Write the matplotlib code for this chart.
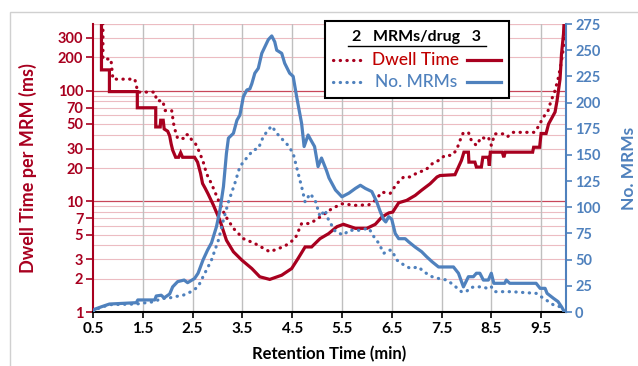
"""Dwell time per MRM and number of MRMs across retention time (2 vs 3 MRMs/drug)."""

import matplotlib

matplotlib.use("Agg")
import matplotlib.pyplot as plt
from matplotlib.lines import Line2D
from matplotlib.patches import Rectangle

plt.rcParams["font.family"] = ["Lato", "DejaVu Sans"]

RED = "#A8001F"
RED_TEXT = "#C00000"
BLUE = "#4F81BD"
GRID_MINOR = "#ECBCC2"
GRID_MAJOR = "#C8475A"

# Dwell time (ms), 3 MRMs/drug (solid)
dwell3_t = [0.5, 0.67, 0.67, 0.83, 0.83, 1.39, 1.39, 1.76, 1.76, 1.85, 1.86, 1.91, 1.93,
            2.0, 2.04, 2.07, 2.1, 2.16, 2.22, 2.26, 2.3, 2.54, 2.6, 2.66, 2.7, 2.75, 2.81,
            2.92, 3.05, 3.18, 3.32, 3.49, 3.69, 3.85, 4.05, 4.29, 4.49, 4.62, 4.76, 4.89,
            5.06, 5.23, 5.4, 5.53, 5.77, 6.0, 6.17, 6.3, 6.44, 6.52, 6.64, 6.8, 6.97, 7.1,
            7.27, 7.41, 7.47, 7.77, 7.84, 7.9, 7.95, 8.04, 8.05, 8.17, 8.2, 8.3, 8.33, 8.44,
            8.46, 8.48, 8.72, 8.75, 8.78, 9.33, 9.35, 9.47, 9.5, 9.6, 9.65, 9.78, 9.82, 9.88,
            9.91, 9.95, 9.97]
dwell3_ms = [500, 500, 154, 154, 98, 98, 70, 70, 47, 47, 54, 54, 45,
             43, 39, 33, 29, 25, 25, 27.5, 25, 25, 22.6, 17.9, 14.5, 13.2, 11.7,
             9.2, 6.7, 4.45, 3.5, 2.94, 2.47, 2.08, 1.97, 2.15, 2.47, 3.05, 3.87, 3.87,
             4.6, 5.1, 5.9, 6.2, 5.7, 5.7, 6.2, 7.2, 7.85, 8.0, 9.7, 10.2, 11.3, 12.6,
             14.4, 16.6, 17.1, 17.4, 20.4, 23.4, 27.8, 27.8, 22.6, 22.6, 20.4, 20.4, 25, 25,
             21, 27.8, 27.8, 25, 27.8, 27.8, 30.8, 30.8, 41, 41, 50, 64, 81, 127,
             215, 325, 500]

# Dwell time (ms), 2 MRMs/drug (dotted)
dwell2_t = [0.5, 0.7, 0.7, 0.86, 0.9, 1.34, 1.4, 1.74, 1.78, 1.9, 1.95, 2.08, 2.12, 2.16,
            2.2, 2.33, 2.36, 2.42, 2.48, 2.56, 2.62, 2.71, 2.78, 2.88, 3.02, 3.15, 3.32,
            3.52, 3.75, 4.05, 4.35, 4.56, 4.69, 4.86, 5.06, 5.3, 5.5, 5.77, 6.04, 6.17,
            6.3, 6.47, 6.6, 6.74, 6.87, 7.04, 7.17, 7.31, 7.44, 7.57, 7.7, 7.8, 7.87, 7.93,
            8.04, 8.1, 8.2, 8.3, 8.37, 8.44, 8.5, 8.57, 8.77, 8.83, 8.94, 9.37, 9.44, 9.54,
            9.64, 9.7, 9.77, 9.84, 9.9, 9.95, 9.98]
dwell2_ms = [500, 500, 193, 193, 127, 127, 97, 97, 81, 81, 66, 66, 50, 42,
             37, 37, 40, 40, 36, 33, 29, 23, 17.8, 14.4, 10.2, 7.5, 5.7,
             4.6, 4.16, 3.5, 3.93, 4.6, 6.3, 6.3, 7.2, 8.6, 9.5, 9.2, 9.3, 10.2,
             12.1, 11.8, 14.4, 16.6, 16.6, 18.4, 19, 21.8, 23.4, 26, 26, 28.9, 35.4, 41,
             42, 35.4, 32, 38, 37, 38, 32, 40.7, 40.7, 38.5, 42, 42, 47, 57,
             66, 81, 97, 127, 174, 245, 400]

# Number of MRMs, 3 MRMs/drug (solid)
mrm3_t = [0.5, 0.53, 0.67, 0.83, 1.37, 1.4, 1.74, 1.77, 1.87, 1.93, 2.04, 2.1, 2.2, 2.33,
          2.4, 2.54, 2.61, 2.71, 2.8, 2.88, 2.98, 3.05, 3.12, 3.18, 3.22, 3.32, 3.39,
          3.45, 3.52, 3.59, 3.65, 3.69, 3.75, 3.82, 3.89, 3.95, 4.02, 4.09, 4.15, 4.19,
          4.29, 4.35, 4.45, 4.52, 4.59, 4.69, 4.74, 4.82, 4.89, 4.95, 5.02, 5.09, 5.19,
          5.24, 5.37, 5.5, 5.64, 5.77, 5.87, 5.97, 6.1, 6.2, 6.27, 6.34, 6.38, 6.44, 6.5,
          6.57, 6.64, 6.77, 6.84, 6.97, 7.1, 7.2, 7.31, 7.44, 7.74, 7.84, 7.94, 8.04,
          8.14, 8.2, 8.27, 8.34, 8.44, 8.5, 8.55, 8.77, 8.8, 8.87, 9.4, 9.48, 9.58, 9.62,
          9.75, 9.84, 9.91, 9.97, 10.0]
mrm3_n = [0, 2.6, 5, 7.6, 8.9, 11.5, 11.5, 15.3, 16, 13.5, 17.2, 24, 29, 30.5,
          28, 32, 37, 49.7, 59, 66, 81.5, 97.4, 119.7, 151.5, 166, 170.6, 183,
          188, 205.6, 212, 213, 218, 228, 232.7, 247, 253, 260, 263.6, 258, 250,
          247, 237.5, 228, 225, 205.6, 180, 158, 169, 163, 158, 138.8, 147, 135,
          128, 116.5, 110, 113.5, 118, 121, 118, 115, 105, 95.8, 88, 86, 91, 88.5,
          75, 70, 70, 67, 62, 57.6, 52.8, 48, 43, 43, 37, 24, 33.7,
          33.7, 37, 37, 30.5, 30.5, 37, 27.4, 27.4, 30.5, 27.4, 27.4, 22.6, 22.6, 17.8,
          13, 9.9, 5, 0, 0]

# Number of MRMs, 2 MRMs/drug (dotted)
mrm2_t = [0.5, 0.53, 0.67, 0.83, 1.37, 1.47, 1.74, 1.87, 2.0, 2.14, 2.31, 2.47, 2.61, 2.71,
          2.81, 2.88, 3.02, 3.12, 3.22, 3.35, 3.45, 3.55, 3.72, 3.82, 3.92, 4.02, 4.09,
          4.19, 4.32, 4.42, 4.52, 4.62, 4.69, 4.76, 4.86, 4.96, 5.06, 5.16, 5.23, 5.37,
          5.53, 5.64, 5.84, 6.04, 6.14, 6.24, 6.34, 6.44, 6.5, 6.6, 6.74, 6.87, 7.04,
          7.14, 7.31, 7.44, 7.61, 7.74, 7.9, 8.0, 8.07, 8.17, 8.34, 8.44, 8.5, 8.57, 8.9,
          9.4, 9.5, 9.6, 9.75, 9.88, 9.97]
mrm2_n = [0, 2, 4.5, 7, 7.6, 8.3, 9.9, 13, 13, 14.6, 16, 19.4, 24, 33.7,
          43, 49.7, 68.8, 88, 105, 123, 138.8, 145, 154.7, 156, 167.4, 174, 177.6,
          170.7, 164, 159, 151.5, 132.5, 119.7, 105, 113, 107, 91, 97.4, 88, 76.7,
          73.5, 78, 78, 80, 72, 65.6, 56, 59, 59, 49.7, 45, 41.7, 43,
          38.5, 33.7, 32, 30.5, 25.8, 19.4, 19.4, 23.2, 24, 24, 22, 24, 19.4, 19.4,
          17.8, 14.6, 11.5, 6.7, 5, 0]

x_ticks = [0.5, 1.5, 2.5, 3.5, 4.5, 5.5, 6.5, 7.5, 8.5, 9.5]
dwell_ticks = [1, 2, 3, 5, 7, 10, 20, 30, 50, 70, 100, 200, 300]
mrm_ticks = list(range(0, 276, 25))

W, H = 638, 366
fig = plt.figure(figsize=(W / 100, H / 100), dpi=100)


def fx(px):
    return px / W


def fy(py):
    return 1 - py / H


# light grey chart frame
fig.add_artist(Rectangle((fx(10), fy(400)), 1.2, fy(12) - fy(400), transform=fig.transFigure,
                         fill=False, edgecolor="#D0D0D0", linewidth=1.0, zorder=0))

ax = fig.add_axes([fx(93), fy(312), fx(566) - fx(93), fy(24) - fy(312)])
ax.patch.set_alpha(0)
ax.set_yscale("log")
ax.set_xlim(0.5, 10)
ax.set_ylim(1, 400)

# horizontal grid at every log step
for decade in (1, 10, 100):
    for k in range(1, 10):
        v = decade * k
        if v > 400:
            continue
        major = k == 1 and decade > 1
        ax.axhline(v, color=GRID_MAJOR if major else GRID_MINOR,
                   linewidth=0.9 if major else 0.8, zorder=0.5)
ax.axhline(400, color=GRID_MINOR, linewidth=0.8, zorder=0.5)
for t in x_ticks[1:]:
    ax.axvline(t, color="#BFBFBF", linewidth=1.0, zorder=0.6)

dot_style = dict(linestyle=(0, (0.1, 2.0)), dash_capstyle="round", linewidth=2.3)
ax.plot(dwell2_t, dwell2_ms, color=RED, zorder=2, **dot_style)
ax.plot(dwell3_t, dwell3_ms, color=RED, linewidth=2.3, zorder=3, solid_joinstyle="miter")

ax.set_xticks(x_ticks)
ax.set_xticklabels([f"{t:.1f}" for t in x_ticks])
ax.set_yticks(dwell_ticks)
ax.set_yticklabels([str(v) for v in dwell_ticks])
ax.minorticks_off()
ax.tick_params(axis="x", direction="out", length=4, width=1.2, pad=3, labelsize=11,
               color="black")
ax.tick_params(axis="y", direction="out", length=5, width=1.2, pad=2, labelsize=10.5,
               color=RED, labelcolor=RED)
for lab in ax.get_xticklabels() + ax.get_yticklabels():
    lab.set_fontweight("bold")

ax.spines["top"].set_visible(False)
ax.spines["right"].set_visible(False)
ax.spines["left"].set_color(RED)
ax.spines["left"].set_linewidth(1.5)
ax.spines["bottom"].set_color("black")
ax.spines["bottom"].set_linewidth(1.5)

ax.set_xlabel("Retention Time (min)", fontsize=12, fontweight="bold")
ax.xaxis.set_label_coords(0.5, -0.118)
ax.set_ylabel("Dwell Time per MRM (ms)", fontsize=13, fontweight="bold", color=RED)
ax.yaxis.set_label_coords(-0.118, 0.5)

ax2 = ax.twinx()
ax2.set_ylim(0, 275)
ax2.plot(mrm2_t, mrm2_n, color=BLUE, zorder=2, **dot_style)
ax2.plot(mrm3_t, mrm3_n, color=BLUE, linewidth=2.3, zorder=3)
ax2.set_yticks(mrm_ticks)
ax2.tick_params(axis="y", direction="out", length=4.5, width=1.2, pad=2, labelsize=10.5,
                color=BLUE, labelcolor=BLUE)
for lab in ax2.get_yticklabels():
    lab.set_fontweight("bold")
for side in ("top", "left", "bottom"):
    ax2.spines[side].set_visible(False)
ax2.spines["right"].set_color(BLUE)
ax2.spines["right"].set_linewidth(1.5)
ax2.set_ylabel("No. MRMs", fontsize=12.5, fontweight="bold", color=BLUE)
ax2.yaxis.set_label_coords(1.117, 0.5)

# hand-made legend box
fig.add_artist(Rectangle((fx(325), fy(98)), fx(509) - fx(325), fy(21) - fy(98),
                         transform=fig.transFigure, facecolor="white", edgecolor="black",
                         linewidth=1.5, zorder=5))
fig.text(fx(417), fy(37), "2   MRMs/drug   3", ha="center", va="center", fontsize=11.5,
         fontweight="bold", zorder=6)
fig.add_artist(Line2D([fx(348), fx(486)], [fy(46), fy(46)], transform=fig.transFigure,
                      color="black", linewidth=1.0, zorder=6))
rows = [("Dwell Time", RED_TEXT, RED, 60, 372), ("No. MRMs", BLUE, BLUE, 82, 375)]
for label, tcol, lcol, ypx, xtxt in rows:
    fig.add_artist(Line2D([fx(333), fx(365)], [fy(ypx), fy(ypx)], transform=fig.transFigure,
                          color=lcol, zorder=6, **dot_style))
    fig.text(fx(xtxt), fy(ypx), label, ha="left", va="center", fontsize=12.5, color=tcol,
             fontweight="medium", zorder=6)
    fig.add_artist(Line2D([fx(467), fx(501)], [fy(ypx), fy(ypx)], transform=fig.transFigure,
                          color=lcol, linewidth=2.3, zorder=6))

fig.savefig("out.png", dpi=100)
